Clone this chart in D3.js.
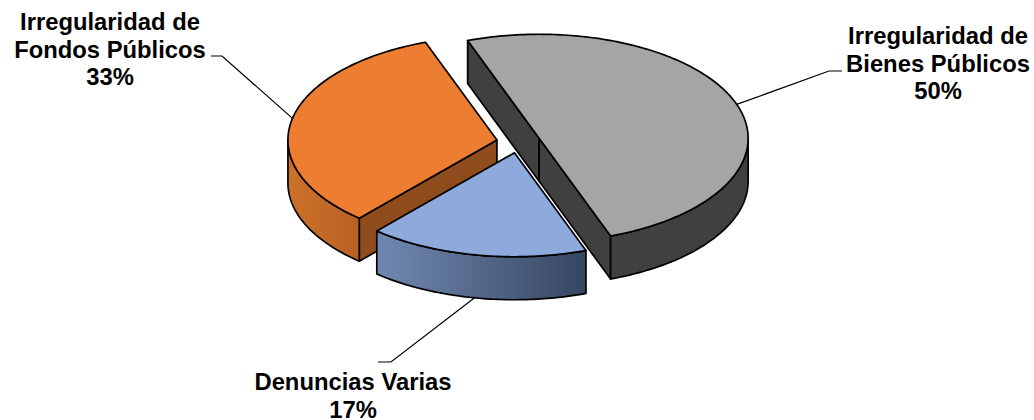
<!DOCTYPE html>
<html>
<head>
<meta charset="utf-8">
<script src="https://d3js.org/d3.v7.min.js"></script>
<style>
  html, body { margin: 0; padding: 0; background: #fff; }
  text { font-family: "Liberation Sans", Arial, sans-serif; font-weight: bold; font-size: 23.8px; fill: #000; }
</style>
</head>
<body>
<div id="chart"></div>
<script>
// data
const categories = ['Irregularidad de Bienes Públicos', 'Denuncias Varias', 'Irregularidad de Fondos Públicos'];
const values = [50, 17, 33];
const percentLabels = ['50%', '17%', '33%'];
const labelLines = [
  ['Irregularidad de', 'Bienes Públicos', '50%'],
  ['Denuncias Varias', '17%'],
  ['Irregularidad de', 'Fondos Públicos', '33%']
];

// look of each slice, same order as the data
const topColors = ['#a5a5a5', '#8ea9db', '#ed7d31'];
const cutColors = ['#404040', '#3a4a68', '#8f4d1e'];
const wallFrom = ['#404040', '#7088b2', '#cc712b'];
const wallTo = ['#404040', '#364660', '#b96122'];

const width = 1034, height = 420;
const rx = 209, ry = 104, depth = 43, explode = 0.105;
const cx = 518.5, cy = 142;
const deg = Math.PI / 180;

// the tilted pie: unit circle coordinates -> screen
const x = d3.scaleLinear().domain([-1, 1]).range([cx - rx, cx + rx]);
const y = d3.scaleLinear().domain([-1, 1]).range([cy - ry, cy + ry]);

const pie = d3.pie().sort(null).startAngle(-20 * deg).endAngle(340 * deg);
const slices = pie(values).map((d, i) => {
  const mid = (d.startAngle + d.endAngle) / 2;
  return { ...d, i, ox: explode * Math.sin(mid), oy: -explode * Math.cos(mid) };
});

const px = (s, a, r = 1) => x(s.ox + r * Math.sin(a));
const py = (s, a, r = 1) => y(s.oy - r * Math.cos(a));

function arcAngles(a0, a1) {
  const n = Math.max(2, Math.ceil((a1 - a0) / deg));
  return d3.range(n + 1).map(k => a0 + (a1 - a0) * k / n);
}

const svg = d3.select('#chart').append('svg')
  .attr('width', width)
  .attr('height', height)
  .style('display', 'block');

const defs = svg.append('defs');
slices.forEach(s => {
  const g = defs.append('linearGradient').attr('id', 'wall' + s.i);
  g.append('stop').attr('offset', '0%').attr('stop-color', wallFrom[s.i]);
  g.append('stop').attr('offset', '100%').attr('stop-color', wallTo[s.i]);
});

const line = d3.line();

// a flat cut face going from the centre out to the rim at angle a
function cutFace(s, a) {
  const c = [x(s.ox), y(s.oy)], e = [px(s, a), py(s, a)];
  return line([c, e, [e[0], e[1] + depth], [c[0], c[1] + depth]]) + 'Z';
}

// outer wall, only the part turned towards the viewer (90deg..270deg)
function wall(s, a0, a1) {
  const top = arcAngles(a0, a1).map(a => [px(s, a), py(s, a)]);
  const bottom = top.map(p => [p[0], p[1] + depth]).reverse();
  return line(top.concat(bottom)) + 'Z';
}

function topFace(s) {
  const rim = arcAngles(s.startAngle, s.endAngle).map(a => [px(s, a), py(s, a)]);
  return line([[x(s.ox), y(s.oy)], ...rim]) + 'Z';
}

const stroke = (sel) => sel.attr('stroke', '#000').attr('stroke-width', 1.7).attr('stroke-linejoin', 'round');

// orange first, then blue, grey goes over both
const drawOrder = [2, 1, 0];
const chart = svg.append('g');

drawOrder.forEach(i => {
  const s = slices[i];
  const g = chart.append('g').attr('class', 'slice');

  // cut faces that look towards the viewer
  if (i === 0) {
    g.append('path').attr('d', cutFace(s, s.startAngle)).attr('fill', cutColors[i]).call(stroke);
    g.append('path').attr('d', cutFace(s, s.endAngle)).attr('fill', cutColors[i]).call(stroke);
  }
  if (i === 2) {
    g.append('path').attr('d', cutFace(s, s.startAngle)).attr('fill', cutColors[i]).call(stroke);
  }

  const a0 = Math.max(s.startAngle, 90 * deg);
  const a1 = Math.min(s.endAngle, 270 * deg);
  if (a1 > a0) {
    g.append('path').attr('d', wall(s, a0, a1)).attr('fill', `url(#wall${i})`).call(stroke);
  }

  g.append('path').attr('d', topFace(s)).attr('fill', topColors[i]).call(stroke);
});

// leader lines: elbow and label anchor for each slice
const leaderAngles = [71, 191, 282];
const leaderElbows = [[[842, 71], [829, 71]], [[378, 362], [391, 362]], [[211, 56], [222, 56]]];
const labelX = [938, 353, 110];
const labelY = [44, 390, 30];
const lineStep = 27.5;

slices.forEach(s => {
  const a = leaderAngles[s.i] * deg;
  const onWall = s.i === 1 ? depth : 0;
  const end = [px(s, a), py(s, a) + onWall];
  svg.append('path')
    .attr('d', line([...leaderElbows[s.i], end]))
    .attr('fill', 'none')
    .attr('stroke', '#000')
    .attr('stroke-width', 1.2);

  const t = svg.append('text').attr('text-anchor', 'middle');
  labelLines[s.i].forEach((l, k) => {
    t.append('tspan')
      .attr('x', labelX[s.i])
      .attr('y', labelY[s.i] + k * lineStep)
      .text(l);
  });
});
</script>
</body>
</html>
